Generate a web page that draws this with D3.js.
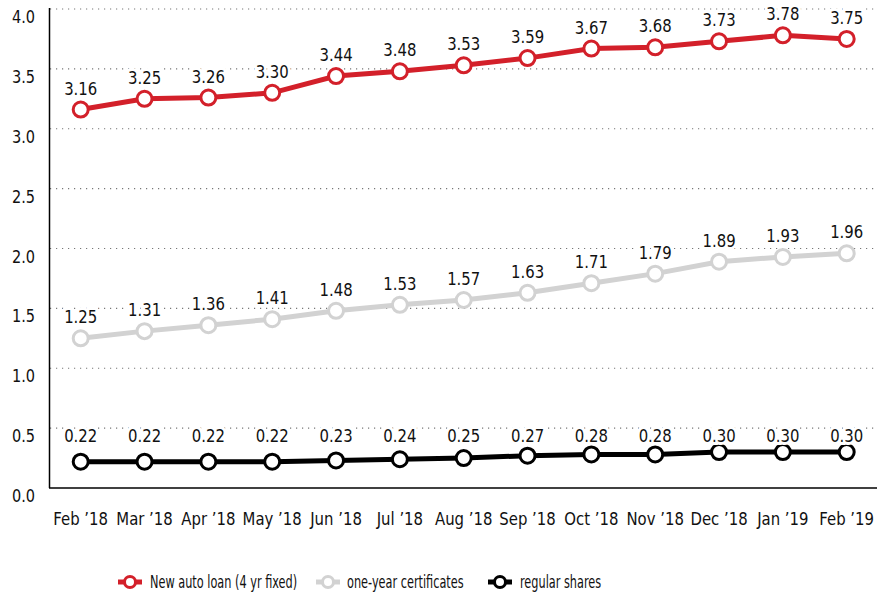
<!DOCTYPE html>
<html>
<head>
<meta charset="utf-8">
<script src="https://cdn.jsdelivr.net/npm/d3@7"></script>
<style>
  body { margin: 0; background: #fff; }
  text { font-family: "DejaVu Sans", sans-serif; font-stretch: condensed; fill: #111; }
</style>
</head>
<body>
<div id="chart"></div>
<script>
const months = ["Feb \u201918", "Mar \u201918", "Apr \u201918", "May \u201918", "Jun \u201918", "Jul \u201918", "Aug \u201918",
                "Sep \u201918", "Oct \u201918", "Nov \u201918", "Dec \u201918", "Jan \u201919", "Feb \u201919"];
const autoLoan = [3.16, 3.25, 3.26, 3.30, 3.44, 3.48, 3.53, 3.59, 3.67, 3.68, 3.73, 3.78, 3.75];
const certificates = [1.25, 1.31, 1.36, 1.41, 1.48, 1.53, 1.57, 1.63, 1.71, 1.79, 1.89, 1.93, 1.96];
const shares = [0.22, 0.22, 0.22, 0.22, 0.23, 0.24, 0.25, 0.27, 0.28, 0.28, 0.30, 0.30, 0.30];
const yTicks = [0, 0.5, 1.0, 1.5, 2.0, 2.5, 3.0, 3.5, 4.0];

const series = [
    { name: "New auto loan (4 yr fixed)", values: autoLoan, color: "#d3202a" },
    { name: "one-year certificates", values: certificates, color: "#d2d2d2" },
    { name: "regular shares", values: shares, color: "#000000" }
];

const width = 877, height = 598;
const svg = d3.select("#chart").append("svg")
    .attr("width", width)
    .attr("height", height);

const x = d3.scalePoint()
    .domain(months)
    .range([80.7, 846.7]);

const y = d3.scaleLinear()
    .domain([0, 4])
    .range([488, 9]);

// squeeze text horizontally to mimic a condensed face
const squeeze = (fx, fy, sx) => (d, i) => `translate(${fx(d, i)},${fy(d, i)}) scale(${sx},1)`;

// dotted grid
svg.append("g")
    .selectAll("line")
    .data(yTicks.filter(d => d > 0))
    .enter().append("line")
    .attr("x1", 50).attr("x2", width)
    .attr("y1", d => y(d)).attr("y2", d => y(d))
    .attr("stroke", "#777")
    .attr("stroke-width", 1.2)
    .attr("stroke-dasharray", "1.2,4.8");

// y tick labels
svg.append("g")
    .selectAll("text")
    .data(yTicks)
    .enter().append("text")
    .attr("transform", squeeze(() => 35, d => y(d) + 14, 0.95))
    .attr("text-anchor", "end")
    .style("font-size", "17px")
    .text(d => d.toFixed(1));

// axes lines
svg.append("line")
    .attr("x1", 49.5).attr("x2", 49.5)
    .attr("y1", 8).attr("y2", y(0))
    .attr("stroke", "#000").attr("stroke-width", 1.5);
svg.append("line")
    .attr("x1", 49).attr("x2", width)
    .attr("y1", y(0)).attr("y2", y(0))
    .attr("stroke", "#000").attr("stroke-width", 1.5);

// x labels
svg.append("g")
    .selectAll("text")
    .data(months)
    .enter().append("text")
    .attr("transform", squeeze(d => x(d), () => 525, 0.92))
    .attr("text-anchor", "middle")
    .style("font-size", "18px")
    .text(d => d);

const line = d3.line()
    .x((d, i) => x(months[i]))
    .y(d => y(d));

const shareLabelY = y(d3.min(shares)) - 20;

series.forEach((s, si) => {
    const g = svg.append("g");
    g.append("path")
        .datum(s.values)
        .attr("d", line)
        .attr("fill", "none")
        .attr("stroke", s.color)
        .attr("stroke-width", 5);

    g.selectAll("circle")
        .data(s.values)
        .enter().append("circle")
        .attr("cx", (d, i) => x(months[i]))
        .attr("cy", d => y(d))
        .attr("r", 7.5)
        .attr("fill", "#fff")
        .attr("stroke", s.color)
        .attr("stroke-width", 3);

    g.selectAll("text")
        .data(s.values)
        .enter().append("text")
        .attr("transform", squeeze((d, i) => x(months[i]), d => si === 2 ? shareLabelY : y(d) - 15, 0.92))
        .attr("text-anchor", "middle")
        .style("font-size", "18px")
        .style("paint-order", "stroke")
        .style("stroke", "#fff")
        .style("stroke-width", "6px")
        .text(d => d.toFixed(2));
});

// legend
const legendPos = [
    { mx: 130, tx: 150 },
    { mx: 328, tx: 347 },
    { mx: 500, tx: 520 }
];
const legend = svg.append("g").attr("transform", "translate(0,582)");
series.forEach((s, i) => {
    const p = legendPos[i];
    legend.append("line")
        .attr("x1", p.mx - 12).attr("x2", p.mx + 12)
        .attr("y1", 0).attr("y2", 0)
        .attr("stroke", s.color).attr("stroke-width", 5);
    legend.append("circle")
        .attr("cx", p.mx).attr("cy", 0).attr("r", 5.5)
        .attr("fill", "#fff").attr("stroke", s.color).attr("stroke-width", 3);
    legend.append("text")
        .attr("transform", `translate(${p.tx},6) scale(0.74,1)`)
        .style("font-size", "17px")
        .text(s.name);
});
</script>
</body>
</html>
